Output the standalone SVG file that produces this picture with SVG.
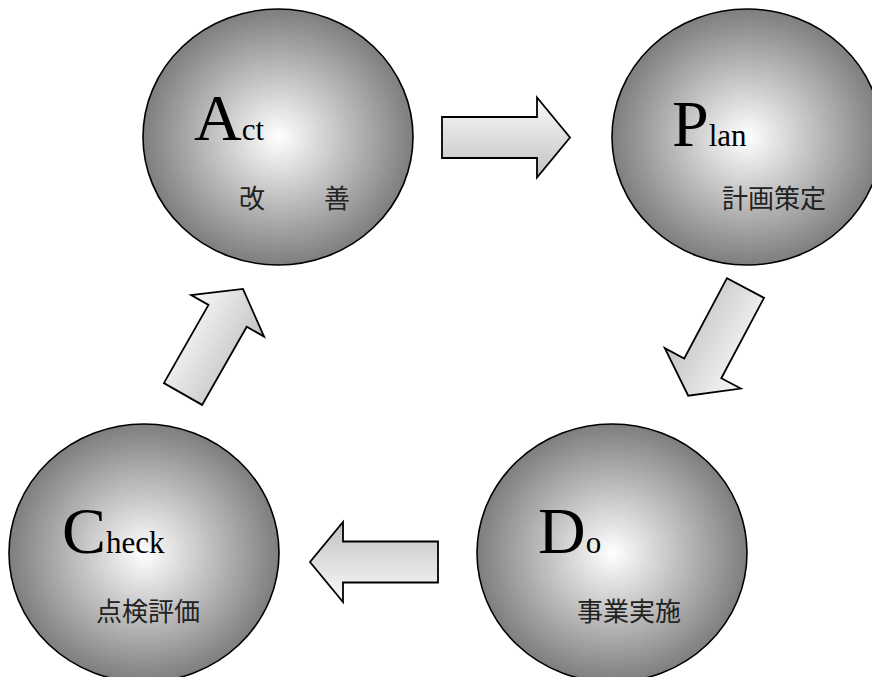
<svg xmlns="http://www.w3.org/2000/svg" width="872" height="677" viewBox="0 0 872 677">
<defs>
<radialGradient id="ball" cx="0.5" cy="0.5" r="0.5">
<stop offset="0" stop-color="#ffffff"/>
<stop offset="1" stop-color="#7e7e7e"/>
</radialGradient>
<linearGradient id="arr" x1="0" y1="0" x2="0" y2="1">
<stop offset="0" stop-color="#fafafa"/>
<stop offset="1" stop-color="#c2c2c2"/>
</linearGradient>
<style>
.ball{fill:url(#ball);stroke:#000;stroke-width:1.6}
.arrow{fill:url(#arr);stroke:#000;stroke-width:1.8;stroke-linejoin:miter}
.lt{font-family:"Liberation Serif","Times New Roman",serif;fill:#000}
.big{font-size:66px}
.sm{font-size:31px}
.jp{font-family:"Noto Sans CJK JP","Noto Sans",sans-serif;font-size:26px;fill:#222}
</style>
</defs>
<rect width="872" height="677" fill="#fff"/>
<g id="connectors">
<path class="arrow" transform="translate(442,137.5)" d="M0,-20.5 L95,-20.5 L95,-40 L128,0 L95,40 L95,20.5 L0,20.5 Z"/>
<path class="arrow" transform="translate(745.5,288) rotate(118)" d="M0,-21 L91,-21 L91,-43 L122,0 L91,43 L91,21 L0,21 Z"/>
<path class="arrow" transform="translate(438,562) rotate(180)" d="M0,-20.5 L95,-20.5 L95,-40 L128,0 L95,40 L95,20.5 L0,20.5 Z"/>
<path class="arrow" transform="translate(183,394) rotate(-60.3)" d="M0,-22 L90,-22 L90,-42 L121,0 L90,42 L90,22 L0,22 Z"/>
</g>
<g id="node-act">
<ellipse class="ball" cx="278" cy="137" rx="135" ry="128"/>
<text class="lt" x="194" y="140"><tspan class="big">A</tspan><tspan class="sm">ct</tspan></text>
<text class="jp" x="239" y="208">改</text>
<text class="jp" x="324" y="208">善</text>
</g>
<g id="node-plan">
<ellipse class="ball" cx="747" cy="137" rx="135" ry="128"/>
<text class="lt" x="672" y="146"><tspan class="big">P</tspan><tspan class="sm" font-size="34">lan</tspan></text>
<text class="jp" x="722" y="208">計画策定</text>
</g>
<g id="node-do">
<ellipse class="ball" cx="612" cy="553" rx="135" ry="129"/>
<text class="lt" x="538" y="553"><tspan class="big">D</tspan><tspan class="sm" font-size="28">o</tspan></text>
<text class="jp" x="577" y="621">事業実施</text>
</g>
<g id="node-check">
<ellipse class="ball" cx="144" cy="553" rx="135" ry="129"/>
<text class="lt" x="62" y="553"><tspan class="big">C</tspan><tspan class="sm" font-size="34">heck</tspan></text>
<text class="jp" x="96" y="621">点検評価</text>
</g>
</svg>
